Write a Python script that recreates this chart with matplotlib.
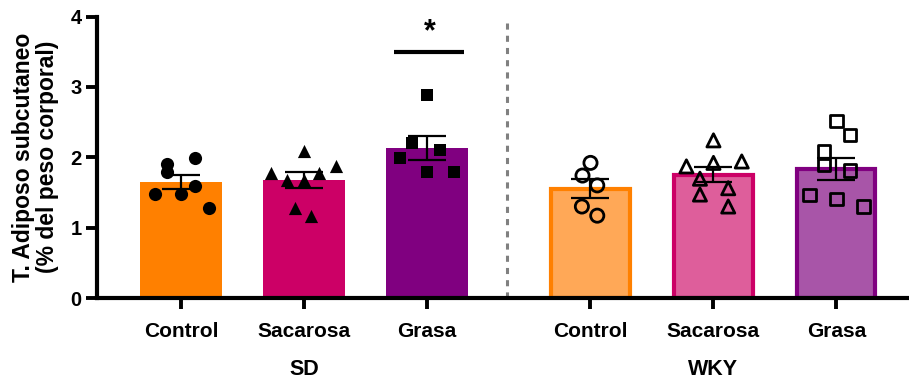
import matplotlib
matplotlib.use("Agg")
import matplotlib.pyplot as plt
import numpy as np

plt.rcParams['font.family'] = ['Liberation Sans', 'DejaVu Sans']
plt.rcParams['font.weight'] = 'bold'

# groups and treatments
treatments = ["Control", "Sacarosa", "Grasa", "Control", "Sacarosa", "Grasa"]
strains = ["SD", "WKY"]

# bar means and SEM (% of body weight)
means = [1.65, 1.68, 2.13, 1.55, 1.75, 1.83]
sems = [0.095, 0.115, 0.165, 0.135, 0.105, 0.16]

# individual animals
sd_control = [1.48, 1.90, 1.79, 1.48, 1.99, 1.59, 1.28]
sd_sacarosa = [1.775, 1.67, 1.28, 2.085, 1.67, 1.17, 1.775, 1.88]
sd_grasa = [1.99, 2.20, 2.89, 1.79, 2.10, 1.79]
wky_control = [1.92, 1.74, 1.60, 1.30, 1.17]
wky_sacarosa = [2.24, 1.87, 1.92, 1.94, 1.695, 1.56, 1.47, 1.30]
wky_grasa = [2.51, 2.32, 2.08, 1.89, 1.81, 1.46, 1.41, 1.30]

# horizontal scatter of the points around each bar
jit_sd_control = [-0.21, -0.11, -0.11, 0.0, 0.11, 0.11, 0.23]
jit_sd_sacarosa = [-0.27, -0.14, -0.07, 0.0, 0.0, 0.06, 0.12, 0.26]
jit_sd_grasa = [-0.22, -0.12, 0.0, 0.0, 0.11, 0.22]
jit_wky_control = [0.0, -0.065, 0.055, -0.07, 0.055]
jit_wky_sacarosa = [0.0, -0.22, 0.0, 0.23, -0.11, 0.12, -0.11, 0.12]
jit_wky_grasa = [0.0, 0.11, -0.10, -0.10, 0.11, -0.22, 0.0, 0.22]

significance_y = 3.49

positions = [0, 1, 2, 3.33, 4.33, 5.33]
fills = ["#FF8000", "#CC0066", "#800080", "#FFA857", "#DE5E9B", "#A855A8"]
edges = ["#FF8000", "#CC0066", "#800080", "#FF8000", "#CC0066", "#800080"]
markers = ["o", "^", "s", "o", "^", "s"]
filled = [True, True, True, False, False, False]
points = [sd_control, sd_sacarosa, sd_grasa, wky_control, wky_sacarosa, wky_grasa]
jitters = [jit_sd_control, jit_sd_sacarosa, jit_sd_grasa,
           jit_wky_control, jit_wky_sacarosa, jit_wky_grasa]

fig = plt.figure(figsize=(9.09, 3.81), dpi=100)
ax = fig.add_axes([97 / 909, 1 - 298 / 381, 1 - 97 / 909, (298 - 16.5) / 381])

width = 0.66
for i in range(6):
    lw = 0 if filled[i] else 3.0
    w = width if filled[i] else width - 0.025
    ax.bar(positions[i], means[i], width=w, color=fills[i], edgecolor=edges[i],
           linewidth=lw, zorder=1)

for i in range(6):
    xs = positions[i] + np.array(jitters[i])
    size = 90 if markers[i] != "s" else 78
    if filled[i]:
        ax.scatter(xs, points[i], marker=markers[i], s=size,
                   color="black", zorder=3, linewidths=0)
    else:
        ax.scatter(xs, points[i], marker=markers[i], s=size,
                   facecolor="none", edgecolor="black", linewidths=2.0, zorder=3)

for i in range(6):
    ax.errorbar(positions[i], means[i], yerr=sems[i], fmt="none", ecolor="black",
                elinewidth=1.6, capsize=14, capthick=1.6, zorder=4)

# significance marker above SD Grasa
ax.plot([1.73, 2.30], [significance_y, significance_y], color="black", lw=3, zorder=4,
        solid_capstyle="butt")
ax.text(2.02, significance_y + 0.08, "*", ha="center", va="bottom",
        fontsize=22, fontweight="bold")

# divider between strains
ax.axvline(2.655, ymin=0, ymax=0.995, color="#808080", lw=2.2, ls=(0, (2, 2)), zorder=0)

ax.set_xlim(-0.683, 5.92)
ax.set_ylim(0, 4)
ax.set_yticks([0, 1, 2, 3, 4])
ax.set_xticks(positions)
ax.set_xticklabels(treatments, fontsize=15, fontweight="bold")
ax.tick_params(axis="y", labelsize=14.5, width=2.8, length=8, pad=3)
ax.tick_params(axis="x", width=2.8, length=8, pad=9)
for lab in ax.get_yticklabels():
    lab.set_fontweight("bold")

for s in ["top", "right"]:
    ax.spines[s].set_visible(False)
for s in ["left", "bottom"]:
    ax.spines[s].set_linewidth(3)

ax.set_ylabel("T. Adiposo subcutaneo\n(% del peso corporal)", fontsize=16.5,
              fontweight="bold", labelpad=8, linespacing=1.05)

# strain labels under each group
ax.text(1, -1.02, strains[0], ha="center", va="center", fontsize=15.5, fontweight="bold",
        transform=ax.transData)
ax.text(4.33, -1.02, strains[1], ha="center", va="center", fontsize=15.5, fontweight="bold",
        transform=ax.transData)

fig.savefig("out.png", dpi=100)
